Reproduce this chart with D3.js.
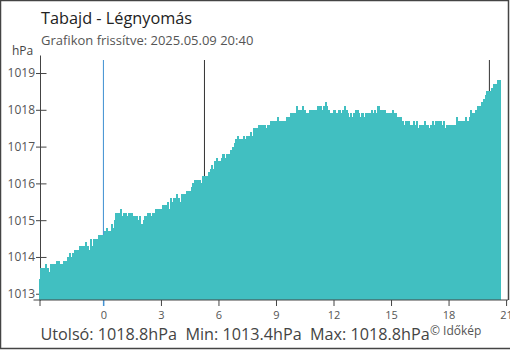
<!DOCTYPE html>
<html>
<head>
<meta charset="utf-8">
<script src="https://cdn.jsdelivr.net/npm/d3@7"></script>
<style>
  html, body { margin: 0; padding: 0; background: #fff; }
  svg { display: block; font-family: "Open Sans", sans-serif; }
</style>
</head>
<body>
<svg id="chart" width="510" height="350"></svg>
<script>
// Station pressure, 5-minute readings from 2025.05.08 20:40 to 2025.05.09 20:40
const chartTitle = "Tabajd - Légnyomás";
const updatedText = "Grafikon frissítve: 2025.05.09 20:40";
const unit = "hPa";
const startHour = -10 / 3;      // 20:40 on the previous day, in hours from midnight
const stepHour = 5 / 60;         // one reading every 5 minutes
const pressure = [
  1013.4, 1013.7, 1013.7, 1013.7, 1013.8, 1013.7, 1013.6, 1013.8, 1013.8, 1013.8,
  1013.8, 1013.9, 1013.9, 1013.8, 1013.8, 1013.9, 1013.9, 1013.9, 1014.0, 1014.1,
  1014.0, 1014.1, 1014.2, 1014.2, 1014.2, 1014.3, 1014.3, 1014.3, 1014.3, 1014.4,
  1014.3, 1014.2, 1014.5, 1014.3, 1014.5, 1014.5, 1014.5, 1014.6, 1014.6, 1014.6,
  1014.6, 1014.7, 1014.8, 1014.7, 1014.7, 1014.9, 1014.8, 1015.0, 1015.2, 1015.2,
  1015.2, 1015.3, 1015.1, 1015.2, 1015.2, 1015.1, 1015.2, 1015.2, 1015.2, 1015.1,
  1015.1, 1015.1, 1015.0, 1015.1, 1014.9, 1015.0, 1015.1, 1015.1, 1015.2, 1015.2,
  1015.1, 1015.2, 1015.2, 1015.3, 1015.3, 1015.3, 1015.3, 1015.4, 1015.4, 1015.4,
  1015.5, 1015.3, 1015.6, 1015.5, 1015.6, 1015.6, 1015.7, 1015.6, 1015.5, 1015.7,
  1015.7, 1015.7, 1015.8, 1015.8, 1015.8, 1015.9, 1016.0, 1016.1, 1016.1, 1016.1,
  1016.1, 1016.0, 1016.2, 1016.2, 1016.2, 1016.2, 1016.3, 1016.4, 1016.5, 1016.4,
  1016.6, 1016.7, 1016.6, 1016.6, 1016.7, 1016.8, 1016.7, 1016.8, 1016.8, 1016.8,
  1016.9, 1017.0, 1017.1, 1017.2, 1017.3, 1017.2, 1017.2, 1017.2, 1017.3, 1017.2,
  1017.3, 1017.3, 1017.4, 1017.3, 1017.5, 1017.5, 1017.5, 1017.6, 1017.6, 1017.6,
  1017.6, 1017.6, 1017.5, 1017.6, 1017.6, 1017.7, 1017.7, 1017.7, 1017.7, 1017.8,
  1017.7, 1017.7, 1017.7, 1017.7, 1017.7, 1017.8, 1017.8, 1017.9, 1017.9, 1017.9,
  1017.9, 1018.1, 1018.0, 1018.0, 1018.0, 1018.1, 1018.0, 1017.9, 1017.9, 1018.0,
  1018.0, 1018.0, 1018.0, 1018.0, 1018.1, 1018.1, 1018.1, 1018.0, 1018.1, 1018.2,
  1018.1, 1018.0, 1017.9, 1017.9, 1018.0, 1018.0, 1017.9, 1018.0, 1018.0, 1017.9,
  1018.0, 1018.1, 1018.0, 1017.9, 1017.8, 1017.9, 1017.8, 1017.9, 1018.0, 1018.0,
  1017.9, 1017.8, 1017.9, 1017.8, 1017.9, 1017.9, 1017.9, 1017.9, 1018.0, 1017.9,
  1018.0, 1017.9, 1018.1, 1018.0, 1018.0, 1018.0, 1018.0, 1017.9, 1017.9, 1017.9,
  1017.9, 1018.0, 1017.9, 1017.9, 1017.8, 1017.8, 1017.8, 1017.7, 1017.6, 1017.7,
  1017.7, 1017.7, 1017.6, 1017.6, 1017.7, 1017.6, 1017.7, 1017.5, 1017.6, 1017.6,
  1017.6, 1017.7, 1017.6, 1017.6, 1017.5, 1017.6, 1017.7, 1017.6, 1017.7, 1017.7,
  1017.7, 1017.7, 1017.6, 1017.7, 1017.5, 1017.6, 1017.6, 1017.6, 1017.6, 1017.6,
  1017.6, 1017.8, 1017.7, 1017.7, 1017.7, 1017.7, 1017.7, 1017.8, 1017.7, 1017.8,
  1018.0, 1017.9, 1017.9, 1018.0, 1018.1, 1018.1, 1018.1, 1018.2, 1018.3, 1018.4,
  1018.5, 1018.5, 1018.5, 1018.6, 1018.7, 1018.7, 1018.7, 1018.8, 1018.8
];
const xTickHours = [0, 3, 6, 9, 12, 15, 18, 21];
const yTickValues = [1013, 1014, 1015, 1016, 1017, 1018, 1019];
const sunHours = [5.27, 20.13];   // sunrise and sunset
const midnightHour = 0;

const svg = d3.select("#chart");

const readings = pressure.map((v, i) => ({ t: startHour + i * stepHour, v }));

const x = d3.scaleLinear().domain([startHour, 21.1]).range([39.5, 508]);
const y = d3.scaleLinear().domain([1012.83, 1019.49]).range([300, 55]);

// outer frame
svg.append("path")
  .attr("d", "M508.5,300 V0.5 H0.5 V348.5 H510")
  .attr("fill", "none").attr("stroke", "#444").attr("stroke-width", 1.5);

// headings
svg.append("text").attr("x", 41).attr("y", 24)
  .attr("font-size", 16.3).attr("fill", "#222").text(chartTitle);
svg.append("text").attr("x", 41).attr("y", 45)
  .attr("font-size", 13).attr("fill", "#555").text(updatedText);
svg.append("text").attr("x", 12).attr("y", 55)
  .attr("font-size", 12).attr("fill", "#444").text(unit);

// y axis (drawn beneath the bars)
const yAxis = svg.append("g").attr("transform", "translate(40,0)")
  .call(d3.axisLeft(y).tickValues(yTickValues).tickSize(4).tickSizeOuter(0).tickPadding(1)
    .tickFormat(d3.format("d")));
yAxis.selectAll(".tick line").attr("x1", 6.5);
yAxis.selectAll("line, path").attr("stroke", "#444");
yAxis.selectAll("text").attr("font-size", 12).attr("fill", "#555")
  .attr("font-family", "Open Sans, sans-serif");

// sunrise / sunset markers
svg.append("g").selectAll("line").data(sunHours).join("line")
  .attr("x1", d => x(d)).attr("x2", d => x(d))
  .attr("y1", 60).attr("y2", 300)
  .attr("stroke", "#333").attr("stroke-width", 1);

// midnight marker
svg.append("line")
  .attr("x1", x(midnightHour)).attr("x2", x(midnightHour))
  .attr("y1", 60).attr("y2", 306)
  .attr("stroke", "#3d8fd1").attr("stroke-width", 1);

// pressure bars
const bw = x(stepHour) - x(0);
svg.append("g").attr("shape-rendering", "crispEdges")
  .selectAll("rect").data(readings).join("rect")
  .attr("x", d => x(d.t) - bw / 2)
  .attr("width", bw + 0.5)
  .attr("y", d => y(d.v))
  .attr("height", d => 300 - y(d.v))
  .attr("fill", "#41bfc1");

// x axis
const xAxis = svg.append("g").attr("transform", "translate(0,300)")
  .call(d3.axisBottom(x).tickValues([startHour, ...xTickHours]).tickSize(6).tickSizeOuter(0)
    .tickPadding(5.5).tickFormat(d => d === startHour ? "" : d3.format("d")(d)));
xAxis.select(".domain").remove();
xAxis.append("line").attr("x1", x.range()[0] - 6).attr("x2", x.range()[1])
  .attr("stroke", "#444");
xAxis.selectAll(".tick line").attr("stroke", d => d === midnightHour ? "#3d8fd1" : "#444");
xAxis.selectAll("text").attr("font-size", 11).attr("fill", "#555")
  .attr("font-family", "Open Sans, sans-serif");

// summary line
const fmt = v => v.toFixed(1) + unit;
const last = pressure[pressure.length - 1];
svg.append("text").attr("x", 40.5).attr("y", 339.5)
  .attr("font-size", 16.2).attr("fill", "#444").style("white-space", "pre")
  .text(`Utolsó: ${fmt(last)}  Min: ${fmt(d3.min(pressure))}  Max: ${fmt(d3.max(pressure))}`);
svg.append("text").attr("x", 430).attr("y", 335)
  .attr("font-size", 12).attr("fill", "#555").text("© Időkép");
</script>
</body>
</html>
